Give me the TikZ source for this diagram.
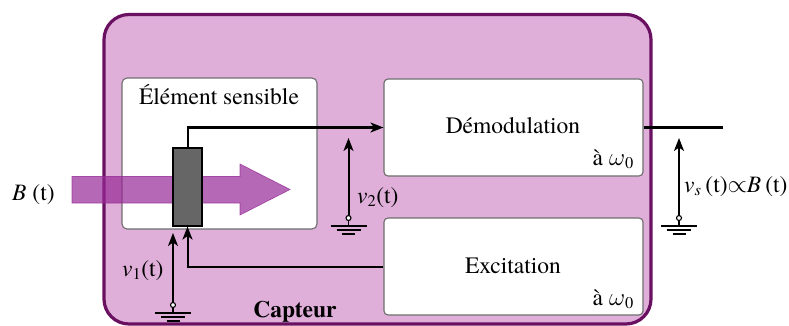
\documentclass[tikz,border=0pt]{standalone}
\usepackage{fontspec}
\setmainfont{texgyretermes}[Extension=.otf, UprightFont=*-regular, BoldFont=*-bold, ItalicFont=*-italic, BoldItalicFont=*-bolditalic]
\usetikzlibrary{arrows.meta}
\definecolor{capfill}{RGB}{223,174,217}
\definecolor{capline}{RGB}{106,16,96}
\definecolor{arrfill}{RGB}{150,40,150}
\definecolor{boxline}{RGB}{110,110,110}
\newcommand\vsub[1]{\textit{v}\textsubscript{#1}}
\newcommand\omz{$\omega$\textsubscript{0}}
\tikzset{
  box/.style={draw=boxline, line width=1.1pt, fill=white, rounded corners=4pt, inner sep=0},
  lbl/.style={inner sep=0},
  wire/.style={line width=2pt, draw=black},
  tip/.style={-{Stealth[length=13pt,width=10pt,inset=3.5pt]}},
  gndc/.style={circle, draw=black, line width=1.1pt, fill=white, minimum size=5pt, inner sep=0},
  gndlines/.pic={
    \draw[line width=1.4pt] (0,2.5) -- (0,8);
    \draw[line width=1.7pt] (-18,8) -- (18,8) (-12,12) -- (12,12) (-6.5,16) -- (6.5,16);
  }
}
\begin{document}
\begin{tikzpicture}[x=1pt,y=-1pt, font=\fontsize{23.5}{28}\selectfont]
\useasboundingbox (0,0) rectangle (789,326);
% outer sensor block
\node[draw=capline, line width=3.2pt, fill=capfill, rounded corners=25pt,
      minimum width=547pt, minimum height=309.5pt, inner sep=0] (cap) at (377.5,169.25) {};
% inner blocks
\node[box, rounded corners=5pt, minimum width=195pt, minimum height=151pt] (elem) at (219.5,153.5) {};
\node[box, minimum width=259pt, minimum height=97pt] (demod) at (513.5,127.5) {};
\node[box, minimum width=259pt, minimum height=97pt] (excit) at (513.5,266.5) {};
% texts
\node[lbl, anchor=base] (elemt) at (219,105) {Élément sensible};
\node[lbl, anchor=base] (demodt) at (513,133) {Démodulation};
\node[lbl, anchor=base east] (demodw) at (634,165) {à \omz};
\node[lbl, anchor=base] (excitt) at (513,273) {Excitation};
\node[lbl, anchor=base east] (excitw) at (634,305) {à \omz};
\node[lbl, anchor=base] (capt) at (295,317) {\textbf{Capteur}};
% field arrow
\filldraw[fill=arrfill, draw=arrfill, fill opacity=0.7, draw opacity=0.8, line width=0.6pt]
  (72,176.5) -- (240,176.5) -- (240,164) -- (290,189.5) -- (240,215) -- (240,203) -- (72,203) -- cycle;
% sensing element
\node[draw=black, fill=black!60, line width=1.1pt, minimum width=29pt, minimum height=78pt, inner sep=0] (sens) at (187.5,187) {};
% wires
\draw[wire, tip] (sens.north) |- (demod.west);
\draw[wire, tip] (excit.west) -| (sens.south);
\coordinate (outend) at (723,127.5);
\draw[wire] (demod.east) -- (outend);
% grounds and voltage arrows
\node[gndc] (g1) at (173,305) {}; \pic at (g1) {gndlines};
\node[gndc] (g2) at (348.5,218) {}; \pic at (g2) {gndlines};
\node[gndc] (g3) at (679,218) {}; \pic at (g3) {gndlines};
\coordinate (t1) at (173,233);
\coordinate (t2) at (348.5,138);
\coordinate (t3) at (679,138);
\draw[wire, tip] (g1) -- (t1);
\draw[wire, tip] (g2) -- (t2);
\draw[wire, tip] (g3) -- (t3);
% voltage labels
\node[lbl, anchor=base west] (v1) at (122,276) {\vsub{1}(t)};
\node[lbl, anchor=base west] (v2) at (357,203) {\vsub{2}(t)};
\node[lbl, anchor=base west] (vs) at (684,192) {\vsub{\textit{s}}\,(t)$\propto$\textit{B}\,(t)};
\node[lbl, anchor=base west] (B) at (12,200) {\textit{B} (t)};
\end{tikzpicture}
\end{document}
